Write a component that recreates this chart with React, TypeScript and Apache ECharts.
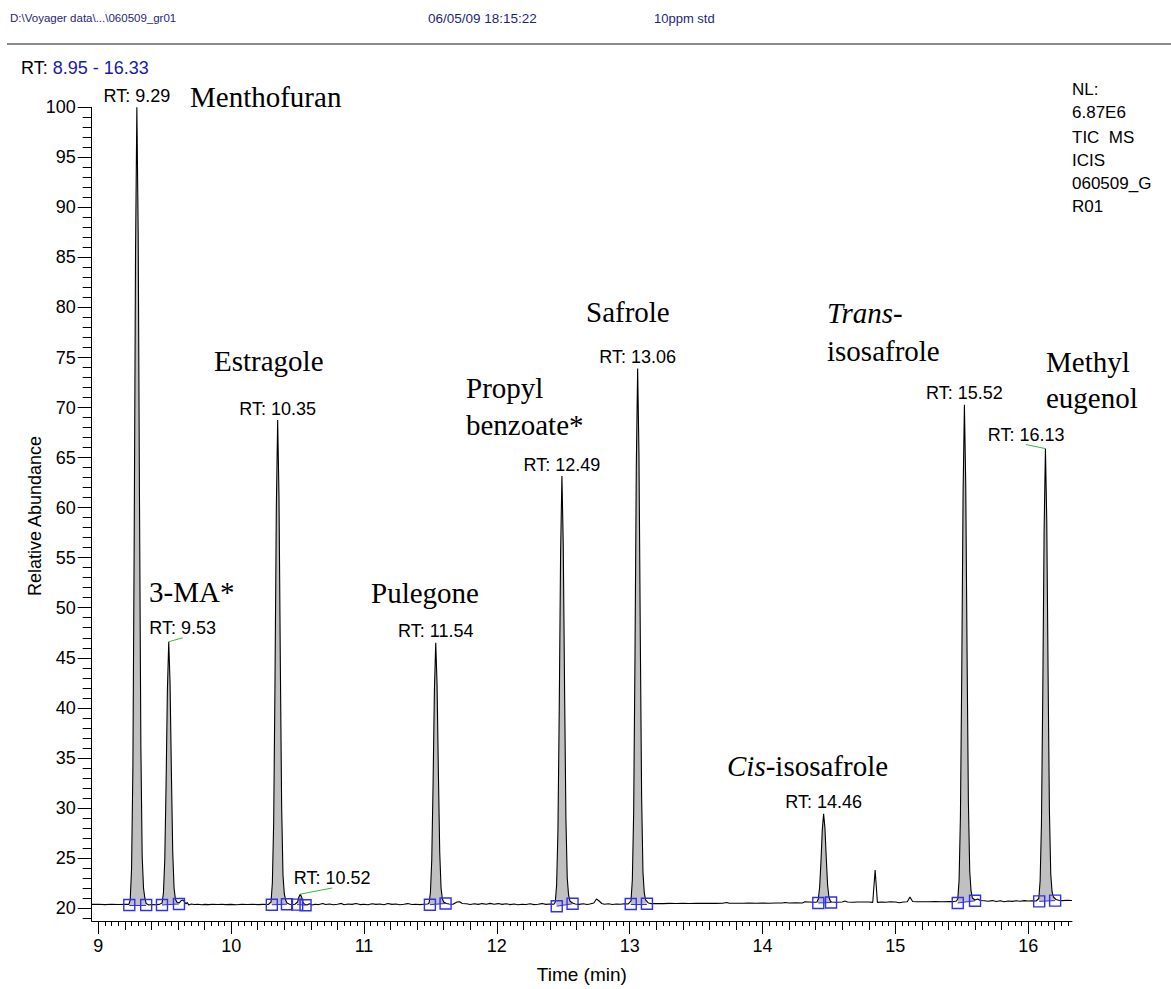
import React, { useEffect, useRef } from "react";
import * as echarts from "echarts";

// ---------------- data ----------------
const headerTexts = ["D:\\Voyager data\\...\\060509_gr01", "06/05/09 18:15:22", "10ppm std"];
const rangeText = ["RT:", "8.95 - 16.33"];
const nlTexts = ["NL:", "6.87E6", "TIC  MS", "ICIS", "060509_G", "R01"];

const xTickLabels = [9, 10, 11, 12, 13, 14, 15, 16];
const yTickLabels = [20, 25, 30, 35, 40, 45, 50, 55, 60, 65, 70, 75, 80, 85, 90, 95, 100];

const peakRT = [9.29, 9.53, 10.35, 10.52, 11.54, 12.49, 13.06, 14.46, 15.52, 16.13];
const peakTop = [100, 46.6, 68.75, 21.38, 46.5, 63.16, 73.9, 29.4, 70.27, 65.9];

// label anchor (where the "RT:" text sits); displaced ones have a green leader line
const labelAnchorT = [9.29, 9.635, 10.35, 10.76, 11.54, 12.49, 13.06, 14.46, 15.52, 15.985];
const labelAnchorV = [100, 47.0, 68.75, 22.0, 46.5, 63.16, 73.9, 29.4, 70.27, 66.3];

// integration start / end (blue squares)
const integStart: [number, number][] = [
  [9.233, 20.3], [9.479, 20.3], [10.306, 20.32], [10.497, 20.34], [11.496, 20.33],
  [12.451, 20.18], [13.008, 20.4], [14.42, 20.5], [15.47, 20.5], [16.083, 20.66],
];
const integEnd: [number, number][] = [
  [9.36, 20.3], [9.607, 20.4], [10.42, 20.38], [10.56, 20.28], [11.614, 20.45],
  [12.57, 20.42], [13.13, 20.42], [14.516, 20.55], [15.60, 20.72], [16.203, 20.74],
];

const peakProfiles: [number, number][][] = [
  [[9.24, 20.8], [9.25, 23.9], [9.26, 33.9], [9.27, 57.0], [9.28, 85.7], [9.29, 100], [9.30, 87.3], [9.31, 60.2], [9.32, 36.3], [9.33, 25.2], [9.34, 22.0], [9.35, 21.0]],
  [[9.48, 20.5], [9.49, 21.5], [9.50, 24.8], [9.51, 32.4], [9.52, 41.9], [9.53, 46.6], [9.54, 42.4], [9.55, 33.5], [9.56, 25.6], [9.57, 22.0], [9.58, 20.9], [9.59, 20.6]],
  [[10.30, 20.6], [10.31, 22.5], [10.32, 28.6], [10.33, 42.7], [10.34, 60.1], [10.35, 68.75], [10.36, 61.1], [10.37, 44.6], [10.38, 30.1], [10.39, 23.3], [10.40, 21.4], [10.41, 20.8]],
  [[10.50, 20.6], [10.51, 21.1], [10.52, 21.38], [10.53, 21.1], [10.54, 20.6], [10.55, 20.4]],
  [[11.49, 20.5], [11.50, 21.55], [11.51, 24.8], [11.52, 32.4], [11.53, 41.8], [11.54, 46.5], [11.55, 42.3], [11.56, 33.5], [11.57, 25.6], [11.58, 22.0], [11.59, 20.9], [11.60, 20.6]],
  [[12.44, 20.6], [12.45, 22.3], [12.46, 27.7], [12.47, 40.1], [12.48, 55.5], [12.49, 63.16], [12.50, 56.3], [12.51, 41.8], [12.52, 29.0], [12.53, 23.0], [12.54, 21.3], [12.55, 20.7]],
  [[13.01, 20.7], [13.02, 22.8], [13.03, 29.5], [13.04, 45.0], [13.05, 64.2], [13.06, 73.9], [13.07, 65.3], [13.08, 47.1], [13.09, 31.1], [13.10, 23.6], [13.11, 21.5], [13.12, 20.8]],
  [[14.41, 20.6], [14.42, 20.9], [14.43, 22.05], [14.44, 24.6], [14.45, 27.8], [14.46, 29.4], [14.47, 28.0], [14.48, 25.0], [14.49, 22.3], [14.50, 21.1], [14.51, 20.7], [14.52, 20.6]],
  [[15.47, 20.9], [15.48, 22.8], [15.49, 29.1], [15.50, 43.5], [15.51, 61.4], [15.52, 70.27], [15.53, 62.3], [15.54, 45.5], [15.55, 30.6], [15.56, 23.7], [15.57, 21.7], [15.58, 21.0]],
  [[16.08, 20.95], [16.09, 22.7], [16.10, 28.4], [16.11, 41.5], [16.12, 57.7], [16.13, 65.9], [16.14, 58.7], [16.15, 43.3], [16.16, 29.7], [16.17, 23.4], [16.18, 21.6], [16.19, 21.1]],
];

const spike: [number, number][] = [[14.83, 20.56], [14.848, 23.8], [14.865, 20.56]];

const baseline: [number, number][] = [
  [8.95, 20.36], [9.0, 20.38], [9.05, 20.34], [9.1, 20.37], [9.15, 20.35], [9.2, 20.38], [9.23, 20.36],
  [9.36, 20.45], [9.38, 20.3], [9.4, 20.35], [9.43, 20.33], [9.46, 20.36],
  [9.61, 20.5], [9.62, 20.7], [9.635, 20.8], [9.65, 20.6], [9.66, 20.4], [9.67, 20.55], [9.68, 20.3], [9.7, 20.4],
  [9.72, 20.35], [9.75, 20.38], [9.78, 20.33], [9.8, 20.36], [9.83, 20.34], [9.86, 20.37], [9.9, 20.35], [9.93, 20.38],
  [9.96, 20.34], [10.0, 20.36], [10.04, 20.33], [10.08, 20.37], [10.12, 20.35], [10.16, 20.38], [10.2, 20.34], [10.24, 20.36], [10.28, 20.35],
  [10.42, 20.5], [10.44, 20.38], [10.46, 20.35], [10.48, 20.37],
  [10.57, 20.3], [10.59, 20.42], [10.61, 20.3], [10.63, 20.38], [10.66, 20.34], [10.69, 20.45], [10.71, 20.35], [10.74, 20.4],
  [10.77, 20.32], [10.8, 20.38], [10.83, 20.46], [10.85, 20.33], [10.88, 20.4], [10.91, 20.36], [10.94, 20.44], [10.97, 20.34],
  [11.0, 20.38], [11.03, 20.32], [11.06, 20.42], [11.09, 20.36], [11.12, 20.4], [11.15, 20.33], [11.18, 20.45], [11.21, 20.36],
  [11.24, 20.4], [11.27, 20.33], [11.3, 20.38], [11.33, 20.44], [11.36, 20.35], [11.39, 20.38], [11.42, 20.34], [11.45, 20.37], [11.48, 20.4],
  [11.62, 20.45], [11.64, 20.4], [11.67, 20.38], [11.7, 20.6], [11.72, 20.62], [11.74, 20.45], [11.77, 20.42], [11.8, 20.35],
  [11.83, 20.42], [11.86, 20.36], [11.89, 20.44], [11.92, 20.38], [11.95, 20.46], [11.98, 20.37], [12.01, 20.44], [12.04, 20.36],
  [12.07, 20.42], [12.1, 20.34], [12.13, 20.4], [12.16, 20.33], [12.19, 20.38], [12.22, 20.35], [12.25, 20.42], [12.28, 20.34],
  [12.31, 20.38], [12.34, 20.44], [12.37, 20.36], [12.4, 20.4], [12.43, 20.38],
  [12.57, 20.5], [12.59, 20.4], [12.62, 20.36], [12.65, 20.42], [12.68, 20.35], [12.7, 20.4], [12.73, 20.5], [12.75, 20.9],
  [12.77, 20.7], [12.79, 20.45], [12.81, 20.38], [12.84, 20.42], [12.87, 20.35], [12.9, 20.4], [12.93, 20.38], [12.96, 20.42], [12.99, 20.4],
  [13.14, 20.5], [13.16, 20.44], [13.2, 20.45], [13.25, 20.44], [13.3, 20.46], [13.35, 20.45], [13.4, 20.46], [13.45, 20.45],
  [13.5, 20.47], [13.55, 20.46], [13.6, 20.47], [13.65, 20.46], [13.7, 20.48], [13.73, 20.55], [13.75, 20.47], [13.8, 20.48],
  [13.85, 20.47], [13.9, 20.49], [13.95, 20.48], [14.0, 20.49], [14.05, 20.48], [14.1, 20.5], [14.15, 20.5], [14.17, 20.55],
  [14.2, 20.5], [14.25, 20.51], [14.3, 20.5], [14.32, 20.62], [14.35, 20.6], [14.38, 20.58], [14.4, 20.58],
  [14.55, 20.58], [14.6, 20.6], [14.62, 20.7], [14.64, 20.6], [14.68, 20.58], [14.72, 20.6], [14.76, 20.6], [14.8, 20.6],
  [14.87, 20.58], [14.9, 20.6], [14.93, 20.58], [14.96, 20.62], [15.0, 20.6], [15.03, 20.52], [15.06, 20.6], [15.09, 20.62],
  [15.11, 21.1], [15.13, 20.65], [15.16, 20.62], [15.2, 20.63], [15.25, 20.62], [15.3, 20.64], [15.35, 20.63], [15.4, 20.65],
  [15.44, 20.64], [15.46, 20.7],
  [15.6, 20.8], [15.62, 20.9], [15.64, 20.75], [15.67, 20.72], [15.7, 20.68], [15.73, 20.74], [15.76, 20.65], [15.79, 20.72],
  [15.82, 20.62], [15.85, 20.7], [15.88, 20.66], [15.91, 20.72], [15.94, 20.68], [15.97, 20.74], [16.0, 20.7], [16.03, 20.72], [16.06, 20.7],
  [16.21, 20.85], [16.23, 20.78], [16.26, 20.74], [16.29, 20.77], [16.33, 20.75],
];

const compoundLabels = [
  { text: "Menthofuran", x: 190, y: 97 },
  { text: "3-MA*", x: 149, y: 592 },
  { text: "Estragole", x: 214, y: 361 },
  { text: "Pulegone", x: 371, y: 593 },
  { text: "Propyl", x: 466, y: 388 },
  { text: "benzoate*", x: 466, y: 425 },
  { text: "Safrole", x: 586, y: 312 },
  { text: "{i|Cis}-isosafrole", x: 727, y: 766 },
  { text: "{i|Trans}-", x: 827, y: 313 },
  { text: "isosafrole", x: 827, y: 351 },
  { text: "Methyl", x: 1046, y: 362 },
  { text: "eugenol", x: 1046, y: 398 },
];

// ---------------- styling ----------------
const SANS = "'Liberation Sans', Arial, Helvetica, sans-serif";
const SERIF = "'Liberation Serif', 'Times New Roman', serif";
const X_MIN = 8.95;
const X_MAX = 16.33;
const Y_MIN = 18.7;
const Y_MAX = 100;

function range(start: number, end: number, step: number): number[] {
  const out: number[] = [];
  const n = Math.round((end - start) / step);
  for (let i = 0; i <= n; i++) out.push(Math.round((start + i * step) * 1000) / 1000);
  return out;
}

export default function App() {
  const ref = useRef<HTMLDivElement>(null);

  useEffect(() => {
    if (!ref.current) return;
    const chart = echarts.init(ref.current, undefined, { renderer: "svg" });

    const trace = [...baseline, ...spike, ...peakProfiles.flat()].sort((a, b) => a[0] - b[0]);

    const xBase = {
      type: "value" as const,
      min: X_MIN,
      max: X_MAX,
      position: "bottom" as const,
      gridIndex: 0,
      splitLine: { show: false },
    };
    const yBase = {
      type: "value" as const,
      min: Y_MIN,
      max: Y_MAX,
      position: "left" as const,
      gridIndex: 0,
      splitLine: { show: false },
    };

    const headerStyle = (t: string, size: number) => ({
      text: t,
      fontFamily: SANS,
      fontSize: size,
      fill: "#1f1f80",
      verticalAlign: "middle",
      textVerticalAlign: "middle",
    });

    const option: any = {
      animation: false,
      backgroundColor: "#ffffff",
      grid: { left: 91.7, top: 107.3, width: 980.3, height: 818.7, containLabel: false },
      xAxis: [
        {
          ...xBase,
          name: "Time (min)",
          nameLocation: "middle",
          nameGap: 44,
          nameTextStyle: { fontFamily: SANS, fontSize: 19, color: "#000" },
          axisLine: { show: true, lineStyle: { color: "#000", width: 1 } },
          axisTick: { show: true, length: 13, customValues: xTickLabels, lineStyle: { color: "#000" } },
          axisLabel: {
            show: true,
            customValues: xTickLabels,
            margin: 16,
            fontFamily: SANS,
            fontSize: 18,
            color: "#000",
          },
        },
        {
          ...xBase,
          axisLine: { show: false },
          axisTick: { show: true, length: 9, customValues: range(9, 16.2, 0.2), lineStyle: { color: "#000" } },
          axisLabel: { show: false },
        },
        {
          ...xBase,
          axisLine: { show: false },
          axisTick: { show: true, length: 5, customValues: range(9, 16.3, 0.05), lineStyle: { color: "#000" } },
          axisLabel: { show: false },
        },
      ],
      yAxis: [
        {
          ...yBase,
          axisLine: { show: true, lineStyle: { color: "#000", width: 1 } },
          axisTick: { show: true, length: 14, customValues: yTickLabels, lineStyle: { color: "#000" } },
          axisLabel: {
            show: true,
            customValues: yTickLabels,
            margin: 16,
            fontFamily: SANS,
            fontSize: 18,
            color: "#000",
          },
        },
        {
          ...yBase,
          axisLine: { show: false },
          axisTick: { show: true, length: 9, customValues: range(19, 100, 1), lineStyle: { color: "#000" } },
          axisLabel: { show: false },
        },
      ],
      graphic: [
        { type: "text", x: 10, y: 18, style: headerStyle(headerTexts[0], 11.5) },
        { type: "text", x: 428, y: 18, style: headerStyle(headerTexts[1], 13.5) },
        { type: "text", x: 654, y: 18, style: headerStyle(headerTexts[2], 13) },
        { type: "line", shape: { x1: 7, y1: 44, x2: 1171, y2: 44 }, style: { stroke: "#8a8a8a", lineWidth: 2 } },
        {
          type: "text",
          x: 21,
          y: 68,
          style: {
            text: "{b|" + rangeText[0] + "} {c|" + rangeText[1] + "}",
            fontFamily: SANS,
            fontSize: 18,
            verticalAlign: "middle",
            textVerticalAlign: "middle",
            rich: {
              b: { fontFamily: SANS, fontSize: 18, fill: "#000", color: "#000" },
              c: { fontFamily: SANS, fontSize: 18, fill: "#1a1aa6", color: "#1a1aa6" },
            },
          },
        },
        {
          type: "text",
          x: 35,
          y: 516,
          rotation: Math.PI / 2,
          style: {
            text: "Relative Abundance",
            fontFamily: SANS,
            fontSize: 18,
            fill: "#000",
            align: "center",
            textAlign: "center",
            verticalAlign: "middle",
            textVerticalAlign: "middle",
          },
        },
        ...nlTexts.map((t, i) => ({
          type: "text",
          x: 1072,
          y: [89, 112, 137, 160, 183, 206][i],
          style: { text: t, fontFamily: SANS, fontSize: 17, fill: "#000", verticalAlign: "middle", textVerticalAlign: "middle" },
        })),
        ...compoundLabels.map((c) => ({
          type: "text",
          x: c.x,
          y: c.y,
          style: {
            text: c.text,
            fontFamily: SERIF,
            fontSize: 29,
            fill: "#000",
            verticalAlign: "middle",
            textVerticalAlign: "middle",
            rich: {
              i: { fontFamily: SERIF, fontSize: 29, fontStyle: "italic", fill: "#000", color: "#000" },
            },
          },
        })),
      ],
      series: [
        {
          type: "custom",
          name: "area",
          xAxisIndex: 0,
          yAxisIndex: 0,
          z: 1,
          clip: true,
          data: peakRT.map((t, i) => [t, peakTop[i]]),
          encode: { x: 0, y: 1 },
          renderItem: (params: any, api: any) => {
            const i = params.dataIndex;
            const pts = [integStart[i], ...peakProfiles[i], integEnd[i]].map((p) => api.coord(p));
            return { type: "polygon", shape: { points: pts }, style: { fill: "#c0c0c0", stroke: "none" } };
          },
          silent: true,
        },
        {
          type: "line",
          name: "TIC",
          xAxisIndex: 0,
          yAxisIndex: 0,
          z: 2,
          data: trace,
          showSymbol: false,
          symbol: "none",
          lineStyle: { color: "#000", width: 1.1 },
          silent: true,
        },
        {
          type: "lines",
          coordinateSystem: "cartesian2d",
          xAxisIndex: 0,
          yAxisIndex: 0,
          z: 3,
          data: integStart.map((s, i) => ({ coords: [s, integEnd[i]] })),
          lineStyle: { color: "#2f2ff5", width: 1, opacity: 1 },
          silent: true,
        },
        {
          type: "lines",
          coordinateSystem: "cartesian2d",
          xAxisIndex: 0,
          yAxisIndex: 0,
          z: 3,
          data: peakRT
            .map((t, i) => ({ t, i }))
            .filter(({ t, i }) => labelAnchorT[i] !== t)
            .map(({ t, i }) => ({ coords: [[t, peakTop[i]], [labelAnchorT[i], labelAnchorV[i]]] })),
          lineStyle: { color: "#3cb43c", width: 1, opacity: 1 },
          silent: true,
        },
        {
          type: "scatter",
          name: "integration",
          xAxisIndex: 0,
          yAxisIndex: 0,
          z: 4,
          symbol: "rect",
          symbolSize: 11,
          data: [...integStart, ...integEnd],
          itemStyle: { color: "rgba(0,0,0,0)", borderColor: "#2f2ff5", borderWidth: 1.4, opacity: 1 },
          silent: true,
        },
        {
          type: "scatter",
          name: "labels",
          xAxisIndex: 0,
          yAxisIndex: 0,
          z: 5,
          symbolSize: 1,
          itemStyle: { color: "rgba(0,0,0,0)", opacity: 1 },
          data: peakRT.map((t, i) => ({
            value: [labelAnchorT[i], labelAnchorV[i], "RT: " + t.toFixed(2)],
            label: { distance: labelAnchorT[i] === t ? 2 : 0 },
          })),
          label: {
            show: true,
            position: "top",
            formatter: (p: any) => p.value[2],
            fontFamily: SANS,
            fontSize: 18,
            color: "#000",
            opacity: 1,
          },
          silent: true,
        },
      ],
    };

    chart.setOption(option);
    return () => chart.dispose();
  }, []);

  return (
    <div
      ref={ref}
      style={{ position: "fixed", left: 0, top: 0, width: 1171, height: 989, background: "#fff" }}
    />
  );
}
